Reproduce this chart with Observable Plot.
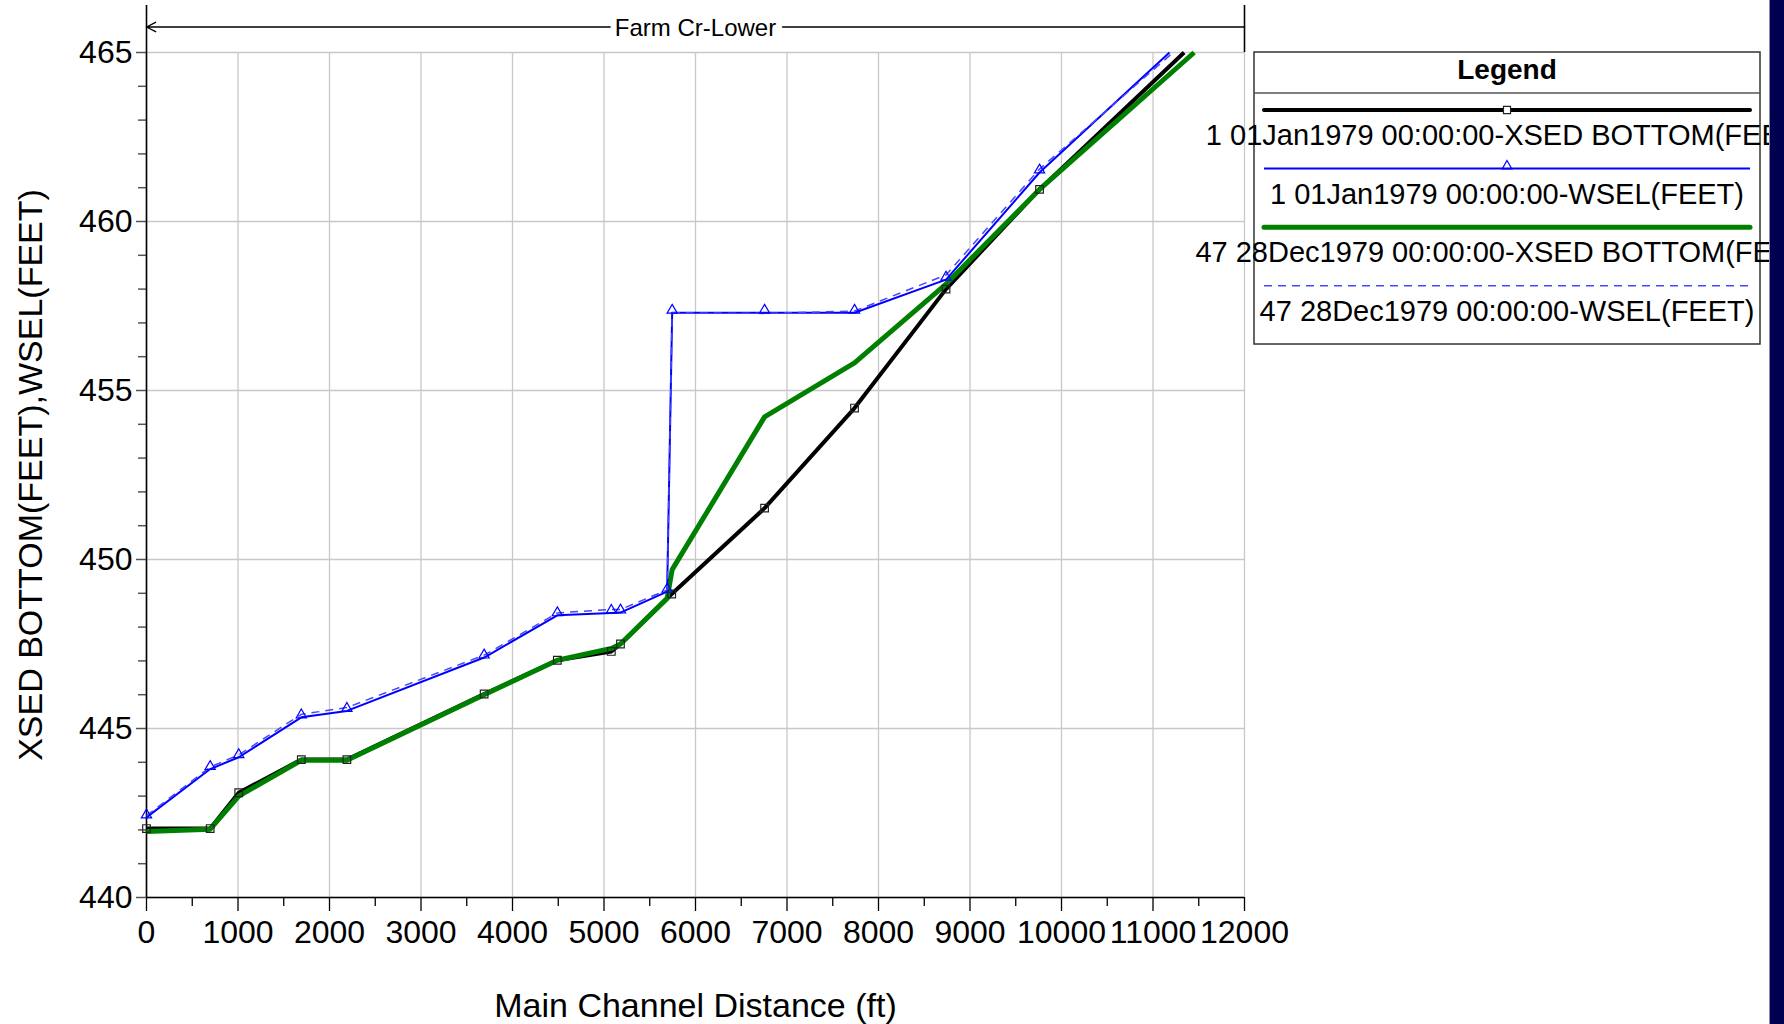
<!DOCTYPE html>
<html><head><meta charset="utf-8">
<script src="https://cdn.jsdelivr.net/npm/d3@7"></script>
<script src="https://cdn.jsdelivr.net/npm/@observablehq/plot@0.6"></script>
<style>
html,body{margin:0;padding:0;background:#fff;width:1784px;height:1024px;overflow:hidden;font-family:"Liberation Sans",Arial,sans-serif;}
#wrap{position:relative;width:1784px;height:1024px;}
#chart{position:absolute;left:0;top:0;}
#legend{position:absolute;left:0;top:0;pointer-events:none;}
#bar{position:absolute;left:1769px;top:0;width:15px;height:1024px;background:#000050;border-left:1px solid #8a8aa0;box-sizing:border-box;}
</style></head><body>
<div id="wrap"><div id="chart"></div><svg id="legend" width="1784" height="1024"></svg><div id="bar"></div></div>
<script>
// ---- text ----
const reachName = "Farm Cr-Lower";
const reachStart = 0, reachEnd = 12000;
const xLabel = "Main Channel Distance (ft)";
const yLabel = "XSED BOTTOM(FEET),WSEL(FEET)";
const legendTitle = "Legend";
const seriesNames = [
  "1 01Jan1979 00:00:00-XSED BOTTOM(FEET)",
  "1 01Jan1979 00:00:00-WSEL(FEET)",
  "47 28Dec1979 00:00:00-XSED BOTTOM(FEET)",
  "47 28Dec1979 00:00:00-WSEL(FEET)"
];

// ---- ticks ----
const xTicks = [0,1000,2000,3000,4000,5000,6000,7000,8000,9000,10000,11000,12000];
const xMinorTicks = [500,1500,2500,3500,4500,5500,6500,7500,8500,9500,10500,11500];
const yTicks = [440,445,450,455,460,465];
const yMinorTicks = [441,442,443,444,446,447,448,449,451,452,453,454,456,457,458,459,461,462,463,464];

// ---- data (distance ft, elevation ft) ----
const bedJanX  = [0, 696, 1008, 1692, 2190, 3690, 4490, 5080, 5180, 5740, 6755, 7738, 8738, 9760, 11340];
const bedJanY  = [442.04, 442.04, 443.1, 444.08, 444.08, 446.02, 447.02, 447.28, 447.5, 448.98, 451.52, 454.48, 458.0, 460.95, 465];
const wselJanX = [0, 696, 1008, 1692, 2190, 3690, 4490, 5080, 5180, 5690, 5745, 6755, 7738, 8738, 9760, 11180];
const wselJanY = [442.37, 443.8, 444.15, 445.33, 445.52, 447.1, 448.35, 448.42, 448.43, 449.05, 457.3, 457.3, 457.3, 458.28, 461.45, 465];
const bedDecX  = [0, 696, 1008, 1692, 2190, 3690, 4490, 5080, 5180, 5690, 5745, 6755, 7738, 8738, 9760, 11450];
const bedDecY  = [441.95, 442.02, 443.0, 444.06, 444.06, 446.0, 447.02, 447.37, 447.5, 448.85, 449.7, 454.22, 455.82, 458.15, 460.95, 465];
const wselDecX = [0, 696, 1008, 1692, 2190, 3690, 4490, 5080, 5180, 5690, 5745, 6755, 7738, 8738, 9760, 11220];
const wselDecY = [442.42, 443.86, 444.22, 445.42, 445.62, 447.17, 448.42, 448.52, 448.52, 449.1, 457.3, 457.28, 457.35, 458.42, 461.55, 465];

const series = [
  {name: seriesNames[0], xs: bedJanX,  ys: bedJanY,  color: "#000000", width: 4,   dash: null,  symbol: "square",   symColor: "#222"},
  {name: seriesNames[1], xs: wselJanX, ys: wselJanY, color: "#0000ff", width: 2,   dash: null,  symbol: "triangle", symColor: "#0000ff"},
  {name: seriesNames[2], xs: bedDecX,  ys: bedDecY,  color: "#008000", width: 5,   dash: null,  symbol: null},
  {name: seriesNames[3], xs: wselDecX, ys: wselDecY, color: "#4646ff", width: 1.5, dash: "8,6", symbol: null}
];
const rowsOf = s => s.xs.map((x, i) => ({x, y: s.ys[i]}));

const font = '"Liberation Sans", Arial, sans-serif';
const fmt = d3.format("d");
const yTop = yTicks[yTicks.length - 1];
const lineOrder = [0, 2, 1, 3];
const marks = [
  Plot.gridX(xTicks, {stroke: "#c8c8c8", strokeOpacity: 1, strokeWidth: 1.3}),
  Plot.gridY(yTicks, {stroke: "#c8c8c8", strokeOpacity: 1, strokeWidth: 1.3}),
  Plot.axisX(xTicks, {tickSize: 14, tickPadding: 9, fontSize: 32, tickFormat: fmt, stroke: "#000", strokeWidth: 1.3, label: null}),
  Plot.axisX(xMinorTicks, {tickSize: 9, tickFormat: () => "", stroke: "#000", strokeWidth: 1.3, label: null}),
  Plot.axisY(yTicks, {tickSize: 10, tickPadding: 4, fontSize: 32, tickFormat: fmt, stroke: "#555", strokeWidth: 1.5, label: null}),
  Plot.axisY(yMinorTicks, {tickSize: 8, tickFormat: () => "", stroke: "#555", strokeWidth: 1.5, label: null}),
  Plot.ruleY([yTicks[0]], {stroke: "#000", strokeWidth: 1.6}),
  Plot.ruleX([xTicks[0]], {stroke: "#000", strokeWidth: 1.6}),
  ...lineOrder.map(i => {
    const s = series[i];
    return Plot.line(rowsOf(s), {x: "x", y: "y", stroke: s.color, strokeWidth: s.width,
      strokeDasharray: s.dash, strokeLinejoin: "round", strokeLinecap: "butt"});
  }),
  ...series.filter(s => s.symbol).map(s =>
    Plot.dot(rowsOf(s).filter(d => d.y < yTop), {x: "x", y: "y", symbol: s.symbol,
      r: s.symbol === "square" ? 4.3 : 3.8, stroke: s.symColor, strokeWidth: 1.2, fill: "none",
      dy: s.symbol === "triangle" ? -2.5 : 0})),
  // reach annotation above the frame
  Plot.ruleX([reachStart, reachEnd], {y1: yTop, y2: yTop, insetTop: -47, stroke: "#000", strokeWidth: 1.6}),
  Plot.arrow([{a: reachEnd, b: reachStart}], {x1: "a", x2: "b", y1: yTop, y2: yTop, dy: -25.5,
    stroke: "#000", strokeWidth: 1.4, headLength: 11, headAngle: 55}),
  Plot.text([reachName], {x: (reachStart + reachEnd) / 2, y: yTop, dy: -24, text: d => d,
    fontSize: 24, fill: "#000", stroke: "#fff", strokeWidth: 12, strokeLinejoin: "miter", textAnchor: "middle", lineAnchor: "middle"}),
  // axis titles
  Plot.text([xLabel], {frameAnchor: "bottom", text: d => d, dy: 119, lineAnchor: "bottom", fontSize: 34, fill: "#000"}),
  Plot.text([yLabel], {frameAnchor: "left", text: d => d, dx: -105, rotate: -90, lineAnchor: "bottom", fontSize: 34, fill: "#000", textAnchor: "middle"})
];

const chart = Plot.plot({
  width: 1784, height: 1024,
  marginLeft: 146, marginRight: 540, marginTop: 52, marginBottom: 127,
  x: {domain: [xTicks[0], xTicks[xTicks.length-1]], label: null},
  y: {domain: [yTicks[0], yTop], label: null},
  style: {fontFamily: font, color: "#000", background: "transparent", overflow: "visible"},
  marks
});
document.getElementById("chart").appendChild(chart);

// ---- legend ----
const lg = d3.select("#legend").style("font-family", font);
const L = {x: 1254, y: 52, w: 506, h: 292, head: 41, row0: 58, rowStep: 58.6, textOff: 35, pad: 10};
lg.append("rect").attr("x", L.x).attr("y", L.y).attr("width", L.w).attr("height", L.h)
  .attr("fill", "#fff").attr("stroke", "#333").attr("stroke-width", 1.5);
lg.append("line").attr("x1", L.x).attr("x2", L.x + L.w).attr("y1", L.y + L.head).attr("y2", L.y + L.head)
  .attr("stroke", "#555").attr("stroke-width", 1.5);
lg.append("text").attr("x", L.x + L.w / 2).attr("y", L.y + 27).attr("text-anchor", "middle")
  .attr("font-size", 28).attr("font-weight", "bold").text(legendTitle);
const cx = L.x + L.w / 2;
series.forEach((s, i) => {
  const y = L.y + L.row0 + i * L.rowStep;
  lg.append("line").attr("x1", L.x + L.pad).attr("x2", L.x + L.w - L.pad).attr("y1", y).attr("y2", y)
    .attr("stroke", s.color).attr("stroke-width", s.width).attr("stroke-dasharray", s.dash)
    .attr("stroke-linecap", s.width > 3 ? "round" : "butt");
  if (s.symbol) {
    const sym = d3.symbol(s.symbol === "square" ? d3.symbolSquare : d3.symbolTriangle, s.symbol === "square" ? 50 : 40);
    lg.append("path").attr("d", sym()).attr("transform", `translate(${cx},${y - (s.symbol === "triangle" ? 2.5 : 0)})`)
      .attr("fill", s.symbol === "square" ? "#fff" : "none").attr("stroke", s.symColor).attr("stroke-width", 1.2);
  }
  lg.append("text").attr("x", cx).attr("y", y + L.textOff).attr("text-anchor", "middle")
    .attr("font-size", 29).attr("fill", "#000").text(s.name);
});
</script>
</body></html>
